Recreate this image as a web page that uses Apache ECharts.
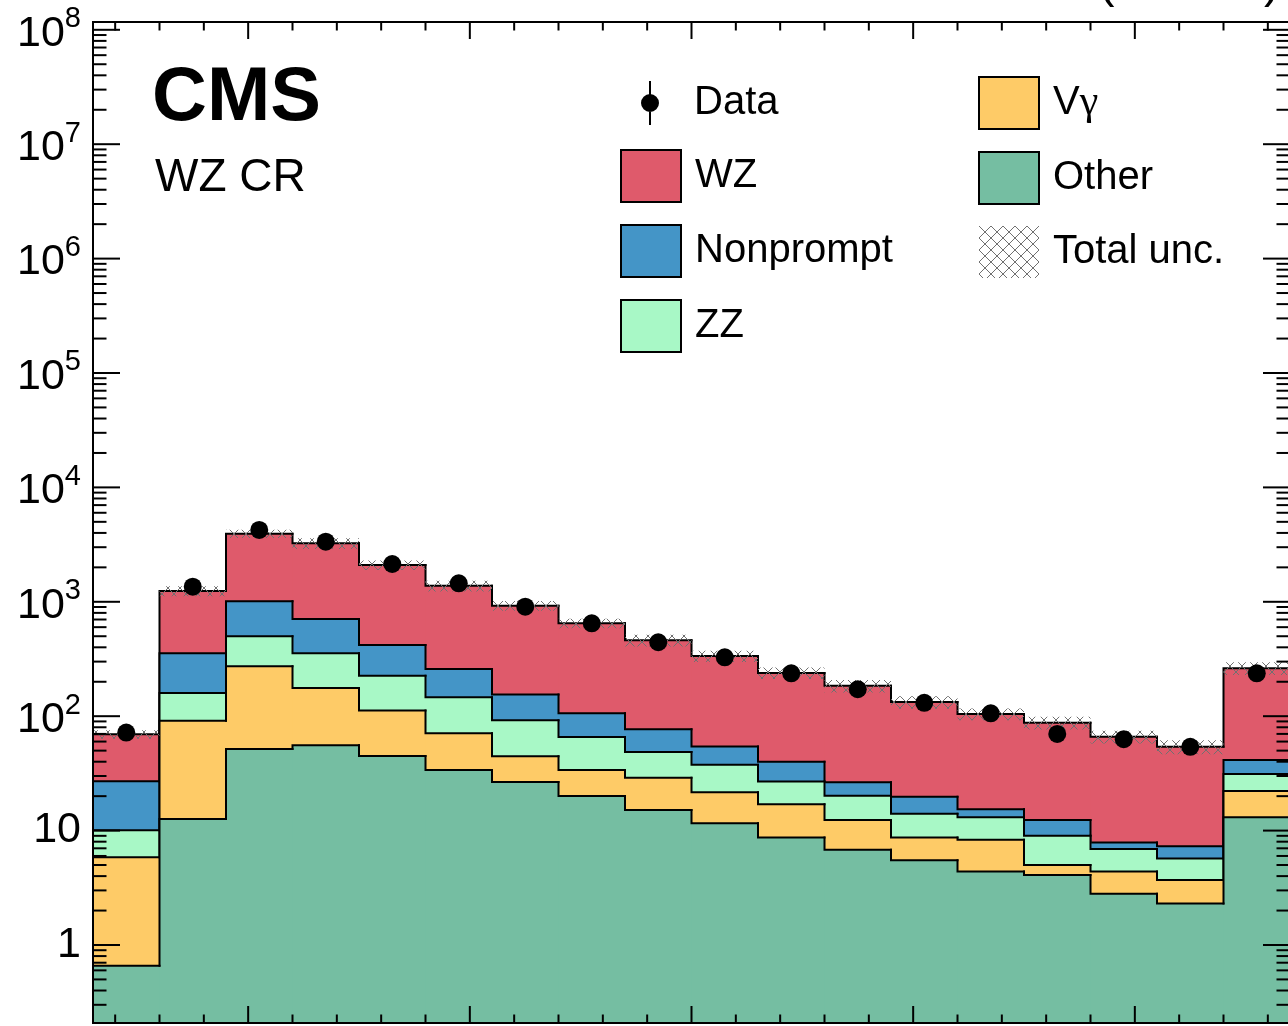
<!DOCTYPE html>
<html>
<head>
<meta charset="utf-8">
<script src="https://cdn.jsdelivr.net/npm/echarts@6/dist/echarts.min.js"></script>
<style>
  html, body { margin: 0; padding: 0; background: #fff; }
  #chart { width: 1288px; height: 1026px; }
</style>
</head>
<body>
<div id="chart"></div>
<script>
// per-bin yields, 18 bins (bin index = x position on the axis)
const other = [0.66, 12.6, 51.7, 55.7, 44.9, 33.8, 26.6, 20.1, 15.1, 11.6, 8.7, 6.8, 5.5, 4.4, 4.1, 2.8, 2.3, 13.1]
const vgamma = [5.2, 78.8, 221, 121, 67, 37.3, 18.0, 13.8, 13.9, 10.0, 8.3, 5.6, 3.2, 3.9, 0.9, 1.6, 1.4, 9.1]
const zz = [4.2, 68, 226, 178, 114, 75, 47.4, 31.9, 19.6, 16.1, 9.8, 7.8, 5.3, 4.8, 4.0, 2.5, 2.0, 9.0]
const nonprompt = [17, 195, 511, 352, 193, 112, 63, 40.2, 28.2, 16.5, 13.2, 6.2, 5.8, 2.3, 3.4, 0.95, 1.6, 10.2]
const wz = [42.4, 888, 2927, 2538, 1679, 1120, 770, 543, 384, 282, 199, 158, 113, 89, 75.3, 58.3, 46.8, 221]
const observed = [72, 1355, 4245, 3354, 2140, 1452, 906, 649, 443, 327, 237, 172, 131, 106, 70, 63, 54, 237]
// relative total uncertainty per bin
const totalUnc = [0.084, 0.099, 0.084, 0.106, 0.095, 0.106, 0.098, 0.095, 0.117, 0.113, 0.117, 0.125, 0.125, 0.117, 0.128, 0.128, 0.14, 0.128]

// axis ticks (x in bin units, y in events)
const xMinorTicks = [1, 3, 5, 9, 11, 13, 15, 19, 21, 23, 25, 29, 31, 33, 35, 39, 41, 43, 45, 49, 51, 53].map(v => v / 3)
const xMajorTicks = [7, 17, 27, 37, 47].map(v => v / 3)
const yMajorTicks = [1, 10, 1e2, 1e3, 1e4, 1e5, 1e6, 1e7, 1e8]
const yMin = 0.208
const yMax = 1.17e8

const colors = {
  wz: '#df5a6b',
  nonprompt: '#4495c7',
  zz: '#a8f8c6',
  vgamma: '#fecb67',
  other: '#75bea2'
}
const FONT = '"Liberation Sans", Arial, Helvetica, sans-serif'

// cumulative stack, bottom to top: Other, Vγ, ZZ, Nonprompt, WZ
const cumOther = other.slice()
const cumVg = cumOther.map((v, i) => v + vgamma[i])
const cumZZ = cumVg.map((v, i) => v + zz[i])
const cumNP = cumZZ.map((v, i) => v + nonprompt[i])
const cumWZ = cumNP.map((v, i) => v + wz[i])

// crosshatch pattern for the uncertainty band
const hatch = document.createElement('canvas')
hatch.width = 12
hatch.height = 12
const hctx = hatch.getContext('2d')
hctx.strokeStyle = '#707070'
hctx.lineWidth = 1
hctx.beginPath()
hctx.moveTo(0, 0); hctx.lineTo(12, 12)
hctx.moveTo(12, 0); hctx.lineTo(0, 12)
hctx.stroke()
const hatchFill = { image: hatch, repeat: 'repeat' }

/**
 * filled step histogram with black outline (ROOT style)
 */
function stackLayer(name, color, tops, z) {
  return {
    name,
    type: 'custom',
    coordinateSystem: 'cartesian2d',
    z,
    silent: true,
    itemStyle: { color },
    data: tops.map((v, i) => [i, v, i > 0 ? tops[i - 1] : yMin]),
    renderItem: (params, api) => {
      const i = api.value(0)
      const p0 = api.coord([i, api.value(1)])
      const p1 = api.coord([i + 1, api.value(1)])
      const cs = params.coordSys
      const bottom = cs.y + cs.height
      const yPrev = i > 0 ? api.coord([i, api.value(2)])[1] : bottom
      return {
        type: 'group',
        children: [
          {
            type: 'rect',
            z2: 0,
            shape: { x: p0[0], y: p0[1], width: p1[0] - p0[0] + 0.6, height: bottom - p0[1] },
            style: { fill: color }
          },
          {
            type: 'polyline',
            z2: 1,
            shape: { points: [[p0[0], yPrev], [p0[0], p0[1]], [p1[0], p0[1]]] },
            style: { stroke: '#000', lineWidth: 2, fill: null, lineJoin: 'miter', lineCap: 'square' }
          }
        ]
      }
    }
  }
}

const chart = echarts.init(document.getElementById('chart'))

const legendText = { fontSize: 40, color: '#000', fontFamily: FONT, padding: [0, 0, 0, 9] }

const option = {
  animation: false,
  backgroundColor: '#fff',
  grid: { left: 93, top: 22, width: 1197, height: 1001, containLabel: false, outerBoundsMode: 'none' },
  xAxis: {
    type: 'value',
    min: 0,
    max: 18,
    axisLine: { show: false },
    axisTick: { show: false },
    axisLabel: { show: false },
    splitLine: { show: false }
  },
  yAxis: {
    type: 'log',
    logBase: 10,
    min: yMin,
    max: yMax,
    splitNumber: 10,
    axisLine: { show: false },
    axisTick: { show: false },
    splitLine: { show: false },
    axisLabel: {
      margin: 12,
      color: '#000',
      fontFamily: FONT,
      padding: [8, 0, 0, 0],
      formatter: (v) => {
        const lg = Math.log10(v)
        const e = Math.round(lg)
        if (Math.abs(lg - e) > 1e-6) return ''
        if (e === 0) return '{p|1}'
        if (e === 1) return '{p|10}'
        return '{b|10}{sup|' + e + '}'
      },
      rich: {
        p: { fontSize: 43, lineHeight: 43, fontFamily: FONT, color: '#000', padding: [0, 0, 8, 0] },
        b: { fontSize: 43, lineHeight: 58, fontFamily: FONT, color: '#000' },
        sup: { fontSize: 29, lineHeight: 29, fontFamily: FONT, color: '#000', verticalAlign: 'top' }
      }
    }
  },
  legend: [
    {
      orient: 'vertical',
      left: 641,
      top: 81,
      padding: 0,
      itemWidth: 18,
      itemHeight: 44,
      selectedMode: false,
      data: [{
        name: 'Data',
        icon: 'path://M8 0h2v44h-2z M9 13a9 9 0 1 1 0 18a9 9 0 1 1 0 -18z',
        itemStyle: { color: '#000', borderWidth: 0, opacity: 1 }
      }],
      textStyle: { fontSize: 40, color: '#000', fontFamily: FONT, padding: [0, 0, 0, 30] }
    },
    {
      orient: 'vertical',
      left: 620,
      top: 149,
      padding: 0,
      itemWidth: 60,
      itemHeight: 52,
      itemGap: 21,
      selectedMode: false,
      data: [
        { name: 'WZ', icon: 'rect', itemStyle: { color: colors.wz, borderColor: '#000', borderWidth: 2 } },
        { name: 'Nonprompt', icon: 'rect', itemStyle: { color: colors.nonprompt, borderColor: '#000', borderWidth: 2 } },
        { name: 'ZZ', icon: 'rect', itemStyle: { color: colors.zz, borderColor: '#000', borderWidth: 2 } }
      ],
      textStyle: legendText
    },
    {
      orient: 'vertical',
      left: 978,
      top: 76,
      padding: 0,
      itemWidth: 60,
      itemHeight: 52,
      itemGap: 21,
      selectedMode: false,
      data: [
        { name: 'Vγ', icon: 'rect', itemStyle: { color: colors.vgamma, borderColor: '#000', borderWidth: 2 } },
        { name: 'Other', icon: 'rect', itemStyle: { color: colors.other, borderColor: '#000', borderWidth: 2 } },
        { name: 'Total unc.', icon: 'rect', itemStyle: { color: hatchFill, borderWidth: 0 } }
      ],
      formatter: (name) => (name === 'Vγ' ? 'V{g|γ}' : name),
      textStyle: Object.assign({}, legendText, {
        rich: { g: { fontSize: 42, fontFamily: '"Liberation Serif", "DejaVu Serif", serif', color: '#000' } }
      })
    }
  ],
  graphic: [
    {
      type: 'text',
      style: { text: 'CMS', x: 152, y: 99, font: 'bold 76px ' + FONT, fill: '#000', verticalAlign: 'middle' }
    },
    {
      type: 'text',
      style: { text: 'WZ CR', x: 155, y: 178, font: '46px ' + FONT, fill: '#000', verticalAlign: 'middle' }
    },
    {
      type: 'text',
      style: {
        text: '138 fb{s|-1} (13 TeV)',
        x: 1280,
        y: -16,
        font: '48px ' + FONT,
        fill: '#000',
        align: 'right',
        verticalAlign: 'middle',
        rich: { s: { fontSize: 32, fontFamily: FONT, verticalAlign: 'top' } }
      }
    }
  ],
  series: [
    stackLayer('WZ', colors.wz, cumWZ, 2),
    stackLayer('Nonprompt', colors.nonprompt, cumNP, 3),
    stackLayer('ZZ', colors.zz, cumZZ, 4),
    stackLayer('Vγ', colors.vgamma, cumVg, 5),
    stackLayer('Other', colors.other, cumOther, 6),
    {
      name: 'Total unc.',
      type: 'custom',
      coordinateSystem: 'cartesian2d',
      z: 7,
      silent: true,
      itemStyle: { color: '#888' },
      data: cumWZ.map((v, i) => [i, v * (1 - totalUnc[i]), v * (1 + totalUnc[i])]),
      renderItem: (params, api) => {
        const i = api.value(0)
        const lo = api.coord([i, api.value(1)])
        const hi = api.coord([i + 1, api.value(2)])
        return {
          type: 'rect',
          shape: { x: lo[0], y: hi[1], width: hi[0] - lo[0], height: lo[1] - hi[1] },
          style: { fill: hatchFill }
        }
      }
    },
    {
      name: 'Data',
      type: 'scatter',
      z: 8,
      symbol: 'circle',
      symbolSize: 18,
      itemStyle: { color: '#000', opacity: 1 },
      data: observed.map((v, i) => [i + 0.5, v])
    },
    {
      // frame with ticks on all four sides
      name: 'frame',
      type: 'custom',
      coordinateSystem: 'cartesian2d',
      z: 9,
      silent: true,
      data: [[0, 1]],
      renderItem: (params, api) => {
        const cs = params.coordSys
        const l = cs.x
        const t = cs.y
        const r = cs.x + cs.width
        const b = cs.y + cs.height
        const kids = []
        const seg = (x1, y1, x2, y2) => kids.push({
          type: 'line',
          shape: { x1, y1, x2, y2 },
          style: { stroke: '#000', lineWidth: 2 }
        })
        yMajorTicks.forEach((v) => {
          const y = api.coord([0, v])[1]
          seg(l, y, l + 27, y)
          seg(r, y, r - 27, y)
        })
        for (let k = -1; k <= 8; k++) {
          for (let m = 2; m <= 9; m++) {
            const v = m * Math.pow(10, k)
            if (v < yMin || v > yMax) continue
            const y = api.coord([0, v])[1]
            seg(l, y, l + 13.5, y)
            seg(r, y, r - 13.5, y)
          }
        }
        xMinorTicks.forEach((v) => {
          const x = api.coord([v, 1])[0]
          seg(x, b, x, b - 8.5)
          seg(x, t, x, t + 8.5)
        })
        xMajorTicks.forEach((v) => {
          const x = api.coord([v, 1])[0]
          seg(x, b, x, b - 17)
          seg(x, t, x, t + 17)
        })
        kids.push({
          type: 'rect',
          shape: { x: l, y: t, width: cs.width, height: cs.height },
          style: { fill: null, stroke: '#000', lineWidth: 2 }
        })
        return { type: 'group', children: kids }
      }
    }
  ]
}

chart.setOption(option)
</script>
</body>
</html>
